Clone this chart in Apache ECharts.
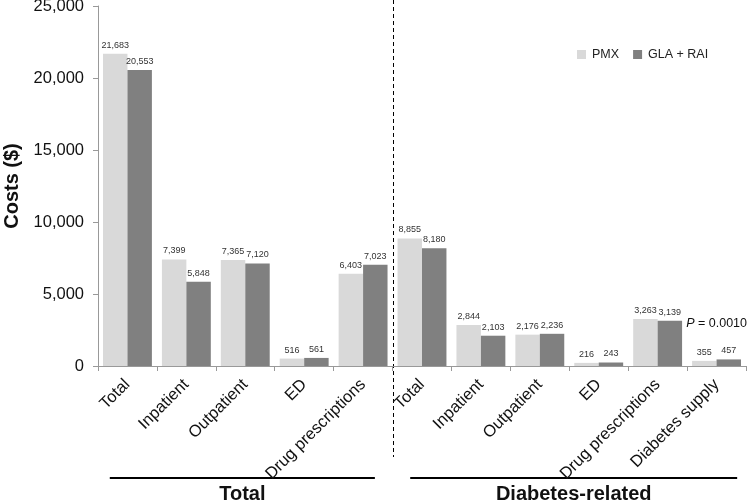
<!DOCTYPE html>
<html><head><meta charset="utf-8">
<script src="https://cdn.jsdelivr.net/npm/echarts@6/dist/echarts.min.js"></script>
<style>html,body{margin:0;padding:0;background:#fff}#c{width:749px;height:502px}</style>
</head><body><div id="c"></div>
<script>
const categories = ['Total','Inpatient','Outpatient','ED','Drug prescriptions','Total','Inpatient','Outpatient','ED','Drug prescriptions','Diabetes supply'];
const pmx = [21683,7399,7365,516,6403,8855,2844,2176,216,3263,355];
const glaRai = [20553,5848,7120,561,7023,8180,2103,2236,243,3139,457];
const yTicks = {min:0,max:25000,interval:5000};
const groups = [{name:'Total',from:0,to:4},{name:'Diabetes-related',from:5,to:10}];
const pText = 'P = 0.0010';

const font = 'Liberation Sans, Arial, sans-serif';
const chart = echarts.init(document.getElementById('c'));
const fmt = v => Number(v).toLocaleString('en-US');
const lbl = {show:true,position:'top',distance:4,fontSize:9,color:'#333',fontFamily:font,formatter:p=>fmt(p.value)};
chart.setOption({
  animation:false,
  textStyle:{fontFamily:font},
  grid:{left:98,right:3,top:6,bottom:136,containLabel:false,outerBoundsMode:'none'},
  legend:{left:577,top:48,padding:0,itemWidth:9,itemHeight:9,itemGap:14,icon:'rect',
    textStyle:{fontSize:12.5,color:'#222',fontFamily:font,padding:[0,0,0,1]},data:['PMX','GLA + RAI']},
  xAxis:{type:'category',data:categories,
    axisLine:{lineStyle:{color:'#999'}},
    axisTick:{show:true,length:5,lineStyle:{color:'#999'}},
    axisLabel:{rotate:45,fontSize:16.5,color:'#111',margin:16,interval:0,fontFamily:font}},
  yAxis:{type:'value',min:yTicks.min,max:yTicks.max,interval:yTicks.interval,
    name:'Costs ($)',nameLocation:'middle',nameGap:76,
    nameTextStyle:{fontSize:20,fontWeight:'bold',color:'#111',fontFamily:font},
    axisLine:{show:true,lineStyle:{color:'#999'}},
    axisTick:{show:true,length:5,lineStyle:{color:'#999'}},
    splitLine:{show:false},
    axisLabel:{fontSize:16.5,color:'#111',margin:14,formatter:v=>fmt(v),fontFamily:font}},
  series:[
    {name:'PMX',type:'bar',data:pmx,itemStyle:{color:'#d9d9d9'},barGap:'0%',barCategoryGap:'17%',label:lbl},
    {name:'GLA + RAI',type:'bar',data:glaRai,itemStyle:{color:'#808080'},barGap:'0%',barCategoryGap:'17%',label:lbl}
  ]
});

function drawExtras(){
  const c0 = chart.convertToPixel({xAxisIndex:0},0);
  const c1 = chart.convertToPixel({xAxisIndex:0},1);
  const w = c1 - c0;
  const edge = i => c0 + (i - 0.5) * w; // left boundary of category i
  const g = [];
  const sx = Math.round(edge(groups[1].from)) + 0.5;
  g.push({type:'line',shape:{x1:sx,y1:0,x2:sx,y2:457},style:{stroke:'#000',lineWidth:1,lineDash:[4,3]}});
  const offs = [[0.2,-0.3],[0.3,-0.15]];
  groups.forEach((gr,k)=>{
    const x1 = edge(gr.from) + offs[k][0]*w;
    const x2 = edge(gr.to+1) + offs[k][1]*w;
    g.push({type:'line',shape:{x1:x1,y1:478,x2:x2,y2:478},style:{stroke:'#000',lineWidth:2.2}});
    g.push({type:'text',x:(x1+x2)/2,y:494,style:{text:gr.name,font:'bold 20px '+font,fill:'#111',align:'center',verticalAlign:'middle'}});
  });
  const last = categories.length-1;
  const py = chart.convertToPixel({yAxisIndex:0},glaRai[last]);
  g.push({type:'text',x:edge(last+1)+1,y:py-36,style:{
    text:'{i|P}'+pText.slice(1),align:'right',verticalAlign:'middle',
    rich:{i:{fontStyle:'italic',fontSize:12.5,fontFamily:font,fill:'#111'}},
    font:'12.5px '+font,fill:'#111'}});
  chart.setOption({graphic:g});
}
drawExtras();
</script>
</body></html>
